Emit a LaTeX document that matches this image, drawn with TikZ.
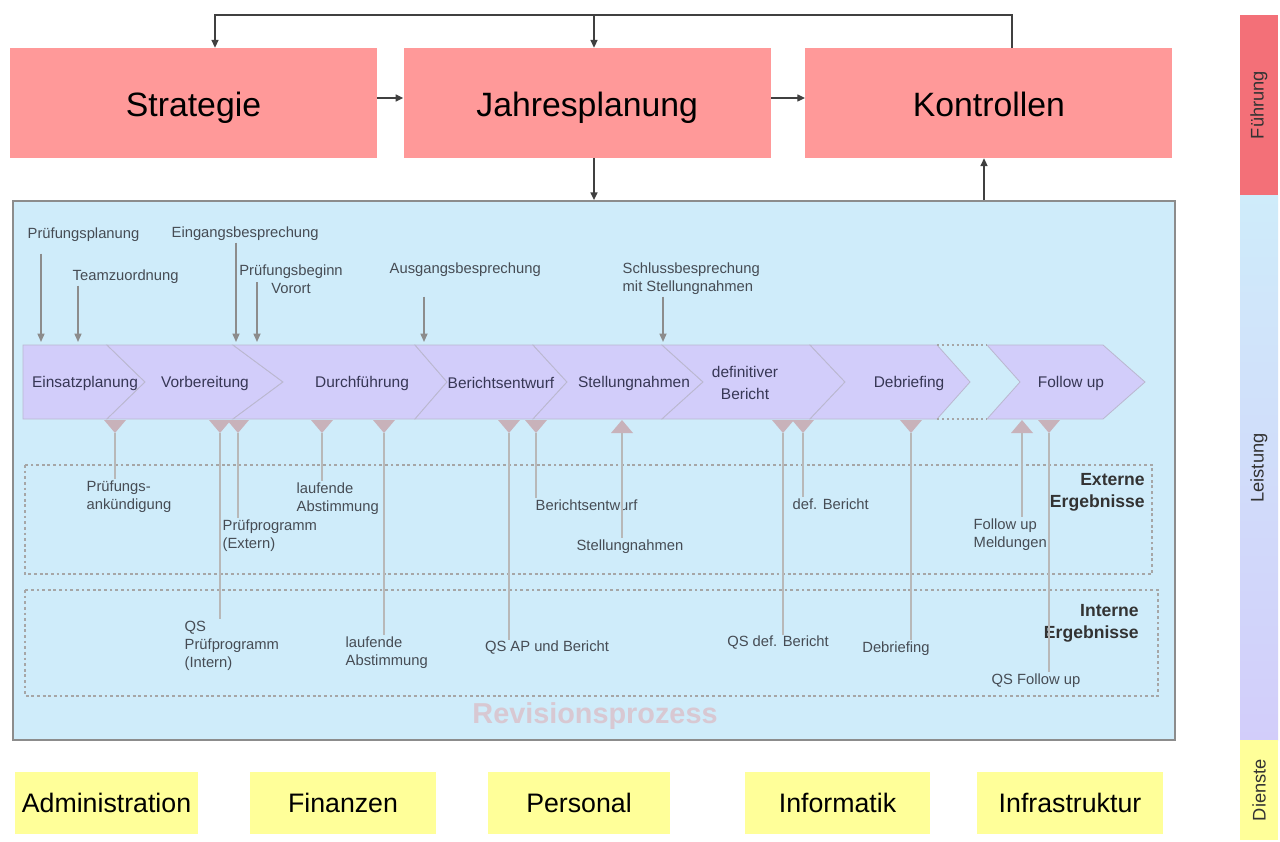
\documentclass[tikz,border=0pt]{standalone}
\usepackage{fontspec}
\setmainfont{Liberation Sans}
\usetikzlibrary{positioning,arrows.meta,calc}
\definecolor{fuehrungrot}{RGB}{255,153,153}
\definecolor{balkenrot}{RGB}{243,112,120}
\definecolor{prozessblau}{RGB}{207,236,250}
\definecolor{phasenlila}{RGB}{210,205,250}
\definecolor{phasentext}{RGB}{55,55,85}
\definecolor{dienstgelb}{RGB}{255,255,153}
\definecolor{markenrosa}{RGB}{200,178,186}
\definecolor{notizgrau}{RGB}{70,76,84}
\tikzset{
topbox/.style={fill=fuehrungrot, minimum width=9.175cm, minimum height=2.75cm,
    text height=24pt, text depth=5pt, font=\fontsize{24}{28}\selectfont},
dienstbox/.style={fill=dienstgelb, minimum height=1.55cm,
    text height=18pt, text depth=4pt, font=\fontsize{19}{22}\selectfont},
flowarrow/.style={draw=black!75, line width=1pt, -{Triangle[length=5.5pt,width=5pt]}},
note/.style={font=\fontsize{10.5}{12.8}\selectfont, text=notizgrau, inner sep=1pt},
inarrow/.style={draw=black!45, line width=1.1pt, -{Triangle[length=6pt,width=5pt]}},
outline/.style={draw=black!28, line width=1.1pt},
phasebox/.style={fill=phasenlila, draw=phasenlila!75!black!70, line width=0.6pt},
phaselabel/.style={font=\fontsize{11}{15}\selectfont, text=phasentext, align=center},
ergebnis/.style={draw=black!35, dash pattern=on 2pt off 2pt, line width=0.8pt},
ergebnislabel/.style={font=\bfseries\fontsize{12.5}{16}\selectfont, text=black!80,
    align=right, anchor=north east, inner sep=0pt},
balkenlabel/.style={rotate=90, font=\fontsize{13}{15}\selectfont, text=black!80}
}
% chevron: notch top x, notch tip x, corner x, tip x, name, label x, text
\newcommand{\phasestep}[7]{
  \draw[phasebox] (#1,345) -- (#3,345) -- (#4,382) -- (#3,419) -- (#1,419) -- (#2,382) -- cycle;
  \node[phaselabel] (#5) at (#6,383) {#7};
}
% result marks below the chevrons
\newcommand{\outmark}[2]{
  \fill[markenrosa] (#1-11,420) -- (#1+11,420) -- (#1,433) -- cycle;
  \coordinate (#2) at (#1,433);
}
\newcommand{\inmark}[2]{
  \fill[markenrosa] (#1-11,433) -- (#1+11,433) -- (#1,420) -- cycle;
  \coordinate (#2) at (#1,433);
}

\begin{document}
\begin{tikzpicture}[x=0.025cm, y=-0.025cm]
\useasboundingbox (0,0) rectangle (1280,841);

% Fuehrung
\node[topbox] (strat) at (193.5,103) {Strategie};
\node[topbox, right=0.65cm of strat] (jahr) {Jahresplanung};
\node[topbox, right=0.85cm of jahr] (kontr) {Kontrollen};

% Leistung
\node[draw=black!45, fill=prozessblau, line width=1.2pt, minimum width=29.05cm,
  minimum height=13.475cm] (prozess) at (594,470.5) {};
\node[font=\bfseries\fontsize{20.5}{24}\selectfont, text={rgb,255:red,216;green,200;blue,210}]
  (revtitel) at (595,716) {Revisionsprozess};

\coordinate (topl) at (215,15);
\coordinate (topm) at (594,15);
\coordinate (topr) at (1012,15);
\coordinate (kup) at (984,0);
\draw[flowarrow] ([yshift=0.125cm]strat.east) -- ([yshift=0.125cm]jahr.west);
\draw[flowarrow] ([yshift=0.125cm]jahr.east) -- ([yshift=0.125cm]kontr.west);
\draw[flowarrow] (kontr.north -| topr) -- (topr) -- (topl) -- (strat.north -| topl);
\draw[flowarrow] (topm) -- (jahr.north -| topm);
\draw[flowarrow] (jahr.south -| topm) -- (prozess.north -| topm);
\draw[flowarrow] (prozess.north -| kup) -- (kontr.south -| kup);

% Ergebnisse
\draw[ergebnis] (25,465) rectangle (1152,574);
\draw[ergebnis] (25,590) rectangle (1158,696);
\node[ergebnislabel] (extlabel) at (1145,473) {Externe\\Ergebnisse};
\node[ergebnislabel] (intlabel) at (1139,604) {Interne\\Ergebnisse};

% Phasen
\phasestep{23}{23}{107}{145}{einsatz}{85}{Einsatzplanung}
\phasestep{107}{145}{233}{283}{vorb}{205}{Vorbereitung}
\phasestep{233}{283}{415}{447}{durchf}{362}{Durchführung}
\phasestep{415}{447}{533}{567}{bentwphase}{501}{Berichtsentwurf}
\phasestep{533}{567}{662}{703}{stellphase}{634}{Stellungnahmen}
\phasestep{662}{703}{810}{845}{defphase}{745}{definitiver\\Bericht}
\phasestep{810}{845}{937}{970}{debrphase}{909}{Debriefing}
\phasestep{987}{1020}{1103}{1145}{fuphase}{1071}{Follow up}
\draw[black!35, dash pattern=on 1.5pt off 2pt, line width=0.8pt]
  (937,345) -- (987,345) (937,419) -- (987,419);

% Ereignisse oben
\node[note, anchor=west] (pplan) at (26,235) {Prüfungsplanung};
\node[note, anchor=west] (team) at (71,277) {Teamzuordnung};
\node[note, anchor=west] (eing) at (170,234) {Eingangsbesprechung};
\node[note, align=center] (beginn) at (291,279) {Prüfungsbeginn\\Vorort};
\node[note, anchor=west] (ausg) at (388,270) {Ausgangsbesprechung};
\node[note, anchor=west, align=left] (schluss) at (621,279) {Schlussbesprechung\\mit Stellungnahmen};
\coordinate (e1) at (41,342);
\coordinate (e2) at (78,342);
\coordinate (e3) at (236,342);
\coordinate (e4) at (257,342);
\coordinate (e5) at (424,342);
\coordinate (e6) at (663,342);
\draw[inarrow] ($(pplan.south -| e1)+(0,10)$) -- (e1);
\draw[inarrow] (team.south -| e2) -- (e2);
\draw[inarrow] (eing.south -| e3) -- (e3);
\draw[inarrow] ($(beginn.west -| e4)+(0,3)$) -- (e4);
\draw[inarrow] ($(ausg.south -| e5)+(0,18)$) -- (e5);
\draw[inarrow] (schluss.south -| e6) -- (e6);

% Ergebnisse unten
\outmark{115}{m1}
\outmark{220}{m2}
\outmark{238}{m3}
\outmark{322}{m4}
\outmark{384}{m5}
\outmark{509}{m6}
\outmark{536}{m7}
\inmark{622}{m8}
\outmark{783}{m9}
\outmark{803}{m10}
\outmark{911}{m11}
\inmark{1022}{m12}
\outmark{1049}{m13}

\node[note, anchor=north west, align=left] (pank) at (85,479) {Prüfungs-\\ankündigung};
\node[note, anchor=north west, align=left] (ppext) at (221,518) {Prüfprogramm\\(Extern)};
\node[note, anchor=north west, align=left] (ppint) at (183,619) {QS\\Prüfprogramm\\(Intern)};
\node[note, anchor=north west, align=left] (labext) at (295,481) {laufende\\Abstimmung};
\node[note, anchor=north west, align=left] (labint) at (344,635) {laufende\\Abstimmung};
\node[note] (qsap) at (547,648) {QS AP und Bericht};
\node[note, anchor=west] (bentw) at (534,505) {Berichtsentwurf};
\node[note] (stell) at (630,547) {Stellungnahmen};
\node[note] (qsdef) at (778,643) {QS def. Bericht};
\node[note, anchor=west] (defb) at (791,504) {def. Bericht};
\node[note] (debr) at (896,649) {Debriefing};
\node[note, anchor=north west, align=left] (fumeld) at (972,517) {Follow up\\Meldungen};
\node[note] (qsfu) at (1036,681) {QS Follow up};

\draw[outline] (m1) -- (m1 |- pank.north);
\draw[outline] (m2) -- (m2 |- ppint.north);
\draw[outline] (m3) -- (m3 |- ppext.north);
\draw[outline] (m4) -- (m4 |- labext.north);
\draw[outline] (m5) -- (m5 |- labint.north);
\draw[outline] (m6) -- (m6 |- qsap.north);
\draw[outline] (m7) -- (m7 |- bentw.north);
\draw[outline] (m8) -- (m8 |- stell.north);
\draw[outline] (m9) -- (m9 |- qsdef.north);
\draw[outline] (m10) -- (m10 |- defb.north);
\draw[outline] (m11) -- (m11 |- debr.north);
\draw[outline] (m12) -- (m12 |- fumeld.north);
\draw[outline] (m13) -- (m13 |- qsfu.north);

% Dienste
\node[dienstbox, minimum width=4.575cm] (admin) at (106.5,803) {Administration};
\node[dienstbox, minimum width=4.65cm] (fin) at (343,803) {Finanzen};
\node[dienstbox, minimum width=4.55cm] (pers) at (579,803) {Personal};
\node[dienstbox, minimum width=4.625cm] (info) at (837.5,803) {Informatik};
\node[dienstbox, minimum width=4.65cm] (infra) at (1070,803) {Infrastruktur};

% Ebenen
\fill[balkenrot] (1240,15) rectangle (1278,195);
\shade[top color=prozessblau, bottom color=phasenlila] (1240,195) rectangle (1278,740);
\fill[dienstgelb] (1240,740) rectangle (1278,840);
\node[balkenlabel] (fuehrung) at (1259,105) {Führung};
\node[balkenlabel] (leistung) at (1259,468) {Leistung};
\node[balkenlabel] (dienste) at (1259,790) {Dienste};
\end{tikzpicture}
\end{document}
